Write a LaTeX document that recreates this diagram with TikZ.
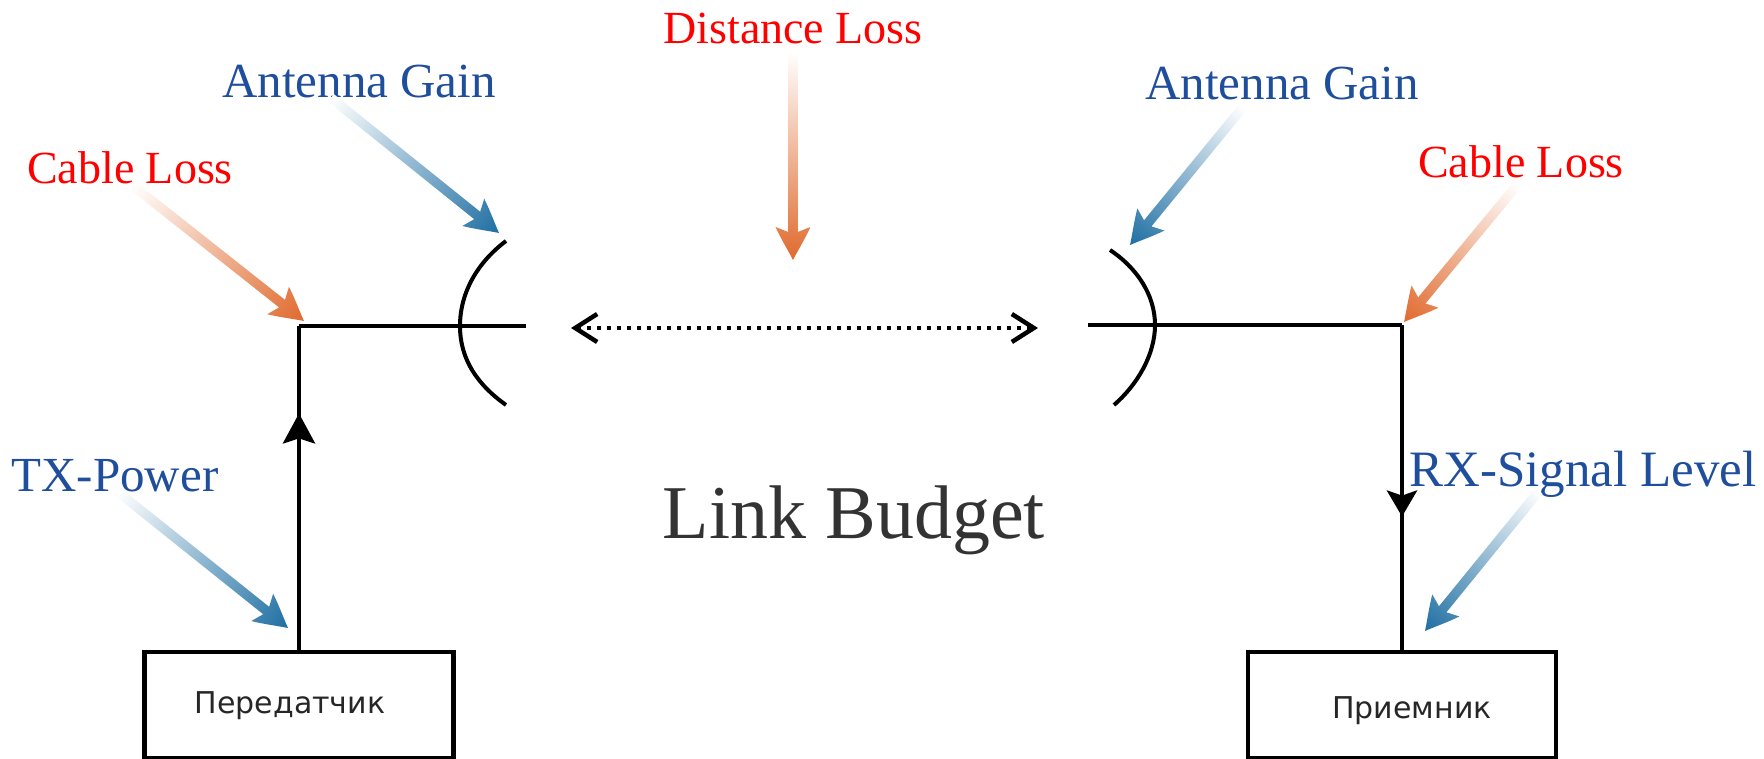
\documentclass[tikz,border=0pt]{standalone}
\usepackage{fontspec}
\setmainfont{Liberation Serif}
\newfontfamily\boxfont{DejaVu Sans}
\usetikzlibrary{calc,arrows.meta,decorations.markings}
\definecolor{gainblue}{HTML}{1F4E9C}
\definecolor{gainarrow}{HTML}{1F6FA3}
\definecolor{lossarrow}{HTML}{E06A2E}
\definecolor{titlegray}{HTML}{333333}

% fat arrow that fades in from its tail
\newcommand{\fadearrow}[3]{
\path let \p1=($(#2)-(#1)$), \n1={atan2(\y1,\x1)}, \n2={veclen(\x1,\y1)} in
    \pgfextra{\xdef\arrowangle{\n1}\xdef\arrowlen{\n2}};
\shade[transform canvas={shift={(#1)},rotate=\arrowangle},left color=white,right color=#3]
    (0pt,-4.8pt) -- (\arrowlen-28pt,-4.8pt) -- (\arrowlen-33pt,-17.5pt)
    .. controls (\arrowlen-21pt,-12pt) and (\arrowlen-8pt,-4pt) .. (\arrowlen,0pt)
    .. controls (\arrowlen-8pt,4pt) and (\arrowlen-21pt,12pt) .. (\arrowlen-33pt,17.5pt)
    -- (\arrowlen-28pt,4.8pt) -- (0pt,4.8pt) -- cycle;
}

\begin{document}
\begin{tikzpicture}[x=1pt,y=-1pt,>=latex]
\tikzstyle{block} = [draw, rectangle, line width=4.6pt, minimum width=309pt, minimum height=106pt, inner sep=0pt]
\tikzstyle{boxtext} = [inner sep=0pt, font=\boxfont\fontsize{30}{30}\selectfont, text=black!85]
\tikzstyle{gain} = [anchor=base, inner sep=0pt, text=gainblue, font=\fontsize{49}{49}\selectfont]
\tikzstyle{loss} = [anchor=base, inner sep=0pt, text=red, font=\fontsize{46}{46}\selectfont]
\tikzstyle{wire} = [draw, line width=4.6pt]
\tikzstyle{dish} = [draw, line width=4pt]
\tikzstyle{input} = [coordinate]
\useasboundingbox (0,0) rectangle (1764,759);

    % We start by placing the blocks
    \node [block] (tx) at (299,705) {};
    \node [block, minimum width=308pt] (rx) at (1402,705) {};
    \node [boxtext] (txtext) at (290,706) {Передатчик};
    \node [boxtext] (rxtext) at (1412,711) {Приемник};
    \node [input] (txcorner) at (299,326) {};
    \node [input] (rxcorner) at (1402,325) {};
    \node [input] (txfeed) at (526,326) {};
    \node [input] (rxfeed) at (1088,325) {};
    \node [input] (linkleft) at (571,328) {};
    \node [input] (linkright) at (1038,328) {};

    \node [anchor=base, inner sep=0pt, text=titlegray, font=\fontsize{76}{76}\selectfont] (budget) at (854,538) {Link Budget};
    \node [gain] (gaintx) at (359,98) {Antenna Gain};
    \node [gain] (gainrx) at (1282,100) {Antenna Gain};
    \node [gain] (power) at (115,491) {TX-Power};
    \node [gain, font=\fontsize{51}{51}\selectfont] (level) at (1583,486) {RX-Signal Level};
    \node [loss] (cabletx) at (130,184) {Cable Loss};
    \node [loss] (cablerx) at (1521,178) {Cable Loss};
    \node [loss] (distance) at (793,44) {Distance Loss};

    % Once the nodes are placed, connecting them is easy.
    \path [wire, postaction={decorate}, decoration={markings, mark=at position .73 with {\arrow{Stealth[length=30pt,width=32pt,inset=5pt]}}}] (tx.north -| txcorner) -- (txcorner);
    \draw [wire, line join=miter] (txcorner) -- (txfeed);
    \path [wire, postaction={decorate}, decoration={markings, mark=at position .59 with {\arrow{Stealth[length=26pt,width=30pt,inset=5pt]}}}] (rxcorner) -- (rx.north -| rxcorner);
    \draw [wire] (rxfeed) -- (rxcorner);
    \draw [line width=4pt, dash pattern=on 4pt off 6pt, {Straight Barb[length=22pt,width=28pt,line width=4.5pt]}-{Straight Barb[length=22pt,width=28pt,line width=4.5pt]}] (linkleft) -- (linkright);

    % dishes
    \draw [dish] (506,241) .. controls (478,262) and (460,292) .. (460,326) .. controls (460,360) and (478,385) .. (506,405);
    \draw [dish] (1110,250) .. controls (1137,268) and (1155,295) .. (1155,325) .. controls (1155,355) and (1137,385) .. (1114,405);

    \node [input] (a1) at (331,98) {};   \node [input] (a2) at (499,233) {};
    \node [input] (b1) at (132,185) {};  \node [input] (b2) at (304,321) {};
    \node [input] (c1) at (118,492) {};  \node [input] (c2) at (288,628) {};
    \node [input] (d1) at (793,52) {};   \node [input] (d2) at (793,260) {};
    \node [input] (e1) at (1243,107) {}; \node [input] (e2) at (1130,245) {};
    \node [input] (f1) at (1518,184) {}; \node [input] (f2) at (1404,322) {};
    \node [input] (g1) at (1539,491) {}; \node [input] (g2) at (1425,631) {};

    \fadearrow{a1}{a2}{gainarrow}
    \fadearrow{b1}{b2}{lossarrow}
    \fadearrow{c1}{c2}{gainarrow}
    \fadearrow{d1}{d2}{lossarrow}
    \fadearrow{e1}{e2}{gainarrow}
    \fadearrow{f1}{f2}{lossarrow}
    \fadearrow{g1}{g2}{gainarrow}

\end{tikzpicture}
\end{document}
